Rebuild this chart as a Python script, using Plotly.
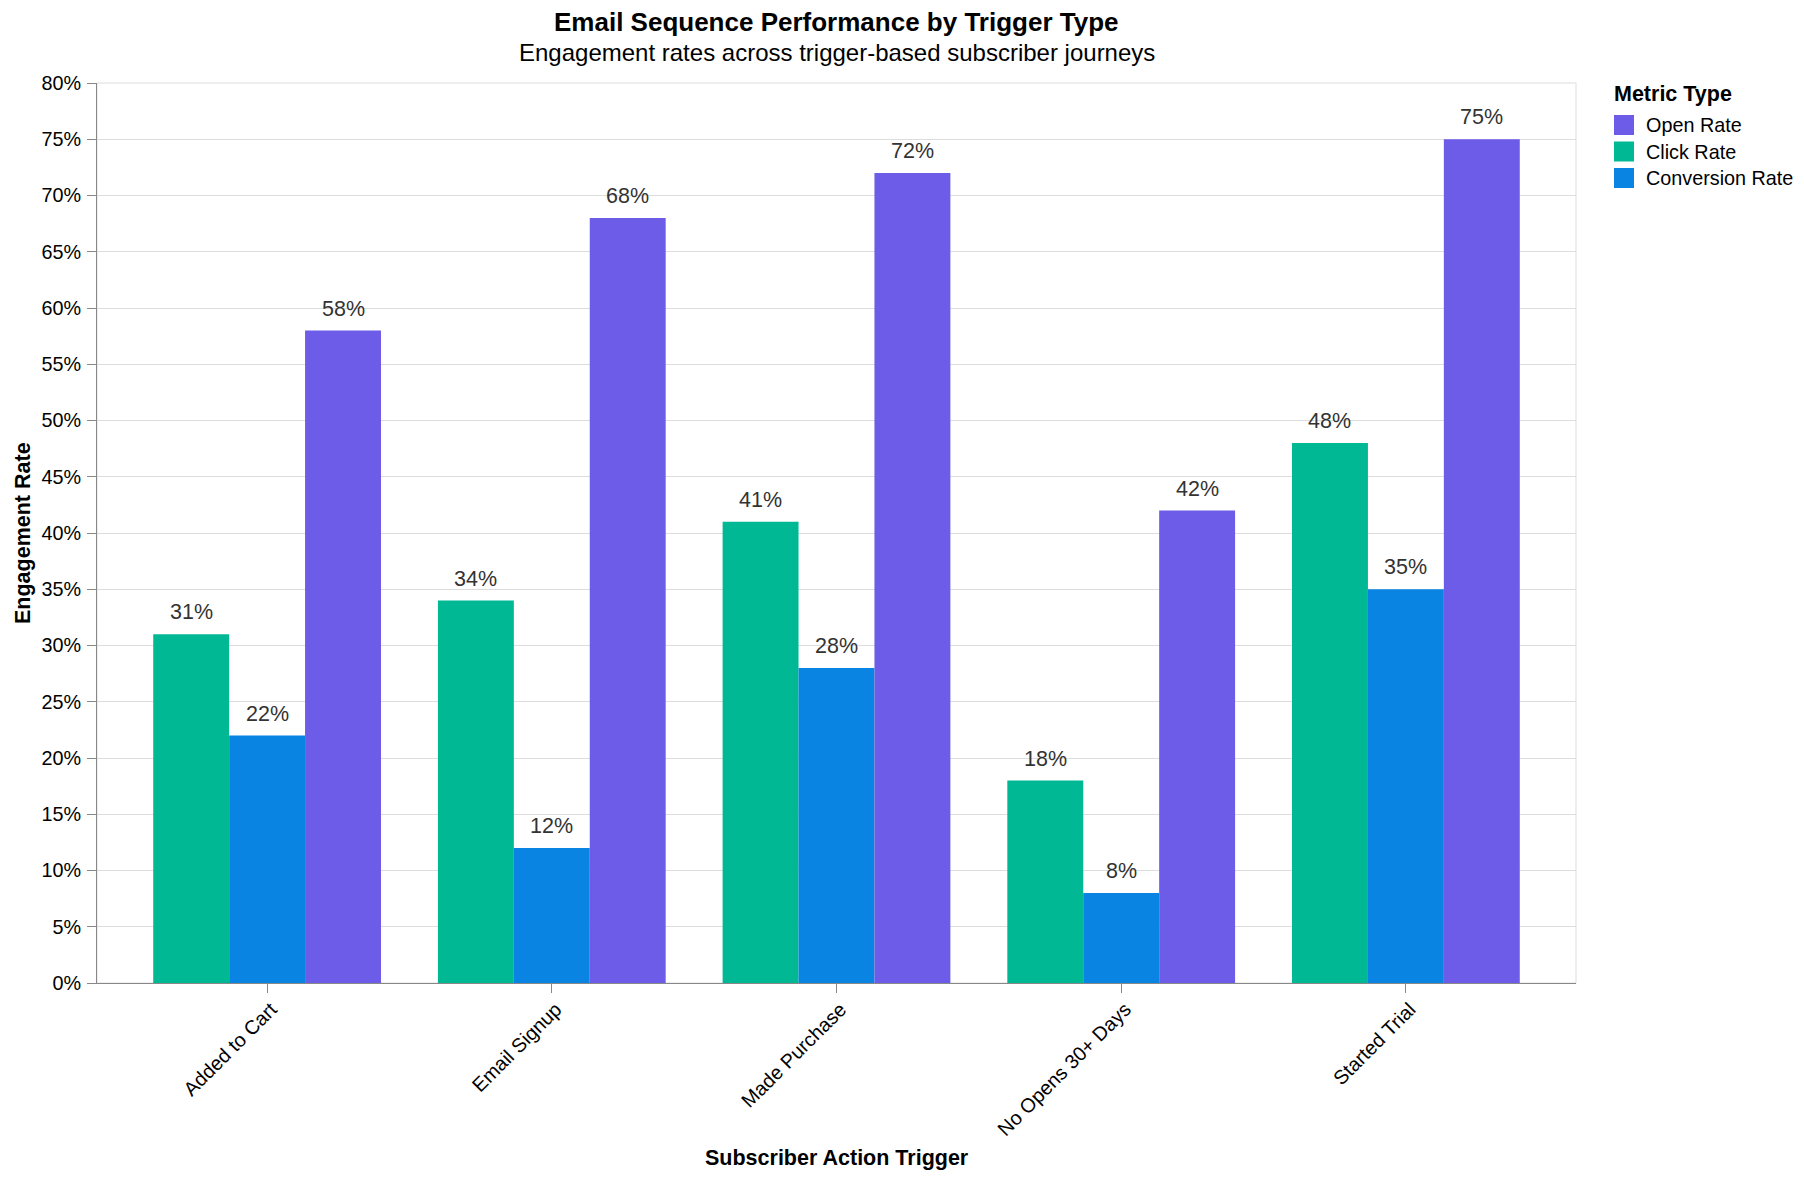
import plotly.graph_objects as go

# ---- data ----
triggers = ["Added to Cart", "Email Signup", "Made Purchase", "No Opens 30+ Days", "Started Trial"]
metrics = ["Click Rate", "Conversion Rate", "Open Rate"]  # order within each group
legend_order = ["Open Rate", "Click Rate", "Conversion Rate"]
click_rate = [31, 34, 41, 18, 48]
conversion_rate = [22, 12, 28, 8, 35]
open_rate = [58, 68, 72, 42, 75]
y_ticks = [0, 5, 10, 15, 20, 25, 30, 35, 40, 45, 50, 55, 60, 65, 70, 75, 80]

series = {"Click Rate": click_rate, "Conversion Rate": conversion_rate, "Open Rate": open_rate}
colors = {"Open Rate": "#6C5CE7", "Click Rate": "#00B894", "Conversion Rate": "#0984E3"}

FONT = "Liberation Sans, Arial, sans-serif"
BODY = 8  # default page margin of the html body
W, H = 1804 - BODY, 1178 - BODY
# plot area in page pixels
P_L, P_R, P_T, P_B = 97, 1576, 83, 983
ML, MT = P_L - BODY, P_T - BODY
MR, MB = W - (P_R - BODY), H - (P_B - BODY)
PW, PH = P_R - P_L, P_B - P_T


def px(xpage):
    return (xpage - P_L) / PW


def py(ypage):
    return (P_B - ypage) / PH


BARGAP = 0.2
fig = go.Figure()
for m in metrics:
    fig.add_trace(go.Bar(
        name=m, x=triggers, y=series[m],
        marker=dict(color=colors[m], line=dict(width=0)),
        showlegend=False,
        hovertemplate="%{x}<br>" + m + ": %{y}%<extra></extra>",
    ))

annotations = []
shapes = [dict(type="rect", xref="paper", yref="paper", x0=0, x1=1, y0=0, y1=1,
               line=dict(color="#dddddd", width=1), layer="below")]

# value labels above bars, placed through the category axis
n = len(metrics)
slot = (1 - BARGAP) / n
for j, m in enumerate(metrics):
    for i, v in enumerate(series[m]):
        annotations.append(dict(
            x=i + (j - (n - 1) / 2) * slot, y=v, xref="x", yref="y",
            text=f"{v}%", showarrow=False, yanchor="middle", yshift=22,
            font=dict(family=FONT, size=21.5, color="#333333"),
        ))

# titles
annotations.append(dict(
    text="<b>Email Sequence Performance by Trigger Type</b>", xref="paper", yref="paper",
    x=0.5, y=py(22), xanchor="center", yanchor="middle", showarrow=False,
    font=dict(family=FONT, size=26, color="#000000")))
annotations.append(dict(
    text="Engagement rates across trigger-based subscriber journeys", xref="paper", yref="paper",
    x=0.5, y=py(53), xanchor="center", yanchor="middle", showarrow=False,
    font=dict(family=FONT, size=24, color="#000000")))
annotations.append(dict(
    text="<b>Subscriber Action Trigger</b>", xref="paper", yref="paper",
    x=0.5, y=py(1158), xanchor="center", yanchor="middle", showarrow=False,
    font=dict(family=FONT, size=21.5, color="#000000")))
annotations.append(dict(
    text="<b>Engagement Rate</b>", xref="paper", yref="paper", textangle=-90,
    x=px(23), y=0.5, xanchor="center", yanchor="middle", showarrow=False,
    font=dict(family=FONT, size=21.5, color="#000000")))

# legend (symbol squares + labels)
annotations.append(dict(
    text="<b>Metric Type</b>", xref="paper", yref="paper",
    x=px(1612), y=py(94), xanchor="left", yanchor="middle", showarrow=False,
    font=dict(family=FONT, size=21.5, color="#000000")))
for k, m in enumerate(legend_order):
    cy = 125 + 26.5 * k
    shapes.append(dict(type="rect", xref="paper", yref="paper",
                       x0=px(1614), x1=px(1634), y0=py(cy + 10), y1=py(cy - 10),
                       line=dict(width=0), fillcolor=colors[m]))
    annotations.append(dict(
        text=m, xref="paper", yref="paper",
        x=px(1644), y=py(cy), xanchor="left", yanchor="middle", showarrow=False,
        font=dict(family=FONT, size=19.8, color="#000000")))

fig.update_layout(
    width=W, height=H,
    margin=dict(l=ML, r=MR, t=MT, b=MB, pad=0),
    paper_bgcolor="white", plot_bgcolor="white",
    barmode="group", bargap=BARGAP, bargroupgap=0,
    font=dict(family=FONT, color="#000000"),
    showlegend=False,
    annotations=annotations,
    shapes=shapes,
    xaxis=dict(
        type="category", range=[-0.5975, len(triggers) - 1 + 0.5975],
        showgrid=False, showline=True, linecolor="#888888", linewidth=1,
        ticks="outside", ticklen=9, tickcolor="#888888", tickwidth=1,
        tickangle=-45, tickfont=dict(family=FONT, size=19.8, color="#000000"),
        ticklabelshift=4, ticklabelstandoff=-3,
        zeroline=False,
    ),
    yaxis=dict(
        range=[0, 80], tickvals=y_ticks, ticktext=[f"{t}%" for t in y_ticks],
        showgrid=True, gridcolor="#dddddd", gridwidth=1,
        showline=True, linecolor="#888888", linewidth=1,
        ticks="outside", ticklen=9, tickcolor="#888888", tickwidth=1,
        ticklabelstandoff=2,
        tickfont=dict(family=FONT, size=19.8, color="#000000"),
        zeroline=False,
    ),
)

fig.write_html("out.html")
